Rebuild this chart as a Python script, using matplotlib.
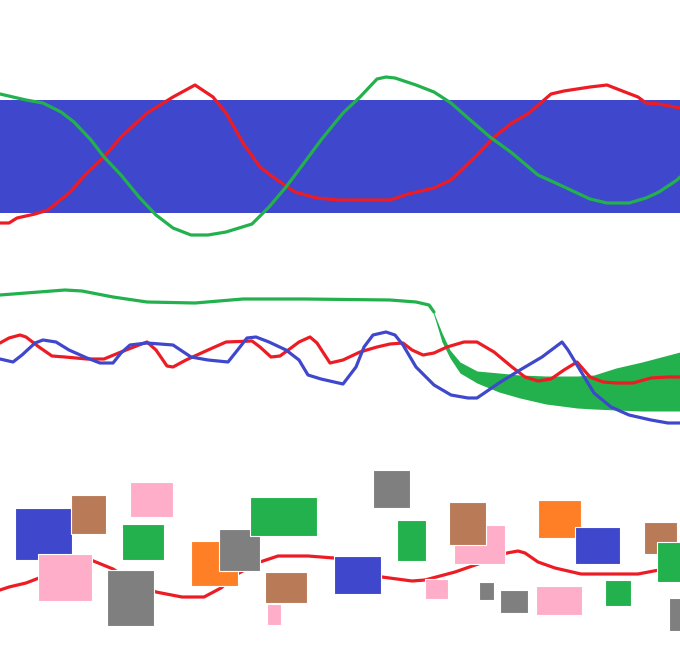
import matplotlib
matplotlib.use("Agg")
import matplotlib.pyplot as plt
import numpy as np

# paint-style palette
BLUE = "#3f48cc"
RED = "#ed1c24"
GREEN = "#22b14c"
ORANGE = "#ff7f27"
PINK = "#ffaec9"
BROWN = "#b97a57"
GRAY = "#7f7f7f"

# ---- top panel: band + two waves (pixel-like units, y grows downward)
band_top = 100
band_bottom = 213

top_red_x = [0, 9, 17, 35, 48, 69, 87, 104, 121, 147, 173, 195, 213, 226, 243, 260, 273, 295,
             317, 338, 390, 408, 434, 451, 477, 494, 512, 529, 551, 564, 590, 607, 625, 638,
             646, 659, 680]
top_red_y = [223, 223, 218, 214, 210, 193, 173, 157, 137, 113, 97, 85, 97, 113, 143, 167, 177, 192,
             198, 200, 200, 194, 188, 180, 155, 137, 123, 113, 94, 91, 87, 85, 92, 97,
             103, 104, 108]

top_green_x = [0, 26, 43, 61, 74, 91, 104, 121, 139, 156, 173, 191, 208, 226, 252, 269, 286, 304,
               321, 343, 360, 377, 386, 395, 416, 434, 451, 468, 490, 512, 538, 560, 590, 607,
               629, 646, 659, 677, 680]
top_green_y = [94, 100, 103, 112, 122, 140, 157, 175, 197, 215, 228, 235, 235, 232, 224, 207, 187, 163,
               140, 113, 97, 79, 77, 78, 85, 92, 103, 118, 137, 153, 175, 185, 199, 203,
               203, 198, 192, 180, 177]

# ---- middle panel
mid_green_x = [0, 26, 65, 82, 113, 147, 195, 243, 304, 390, 416, 429, 434]
mid_green_y = [295, 293, 290, 291, 297, 302, 303, 299, 299, 300, 302, 305, 312]

spread_x = [430, 436, 442, 450, 460, 477, 499, 520, 546, 577, 594, 616, 642, 680]
spread_hi = [303, 318, 333, 350, 362, 371, 373, 375, 376, 376, 375, 368, 362, 352]
spread_lo = [303, 322, 342, 358, 373, 383, 392, 398, 404, 408, 409, 410, 411, 411]

mid_red_x = [0, 9, 20, 26, 39, 52, 65, 87, 104, 121, 139, 147, 156, 167, 173, 186, 208, 226, 252,
             260, 271, 280, 291, 299, 310, 317, 330, 343, 360, 377, 390, 403, 412, 423, 434, 447,
             464, 477, 494, 512, 525, 538, 551, 564, 577, 590, 603, 616, 633, 651, 668, 680]
mid_red_y = [343, 338, 335, 337, 347, 356, 357, 359, 359, 352, 345, 342, 350, 366, 367, 360, 350, 342, 341,
             347, 357, 356, 348, 342, 337, 343, 363, 360, 352, 347, 344, 343, 350, 355, 353, 347,
             342, 342, 352, 367, 377, 381, 379, 370, 362, 377, 382, 383, 383, 378, 377, 377]

mid_blue_x = [0, 13, 22, 35, 43, 56, 69, 87, 100, 113, 121, 130, 147, 173, 191, 208, 228, 236, 247,
              256, 269, 286, 299, 308, 321, 343, 356, 364, 373, 386, 395, 403, 416, 434, 451, 468,
              477, 499, 520, 542, 562, 568, 577, 594, 611, 629, 651, 668, 680]
mid_blue_y = [359, 362, 355, 343, 340, 342, 350, 358, 363, 363, 353, 345, 343, 345, 357, 360, 362, 352, 338,
              337, 342, 350, 360, 375, 379, 384, 367, 347, 335, 332, 335, 345, 367, 385, 395, 398,
              398, 383, 370, 357, 342, 350, 365, 393, 407, 415, 420, 423, 423]

# ---- bottom panel: line + scattered blocks
bot_red_x = [0, 9, 26, 39, 56, 91, 113, 130, 156, 182, 204, 221, 239, 260, 278, 308, 334, 382, 412,
             425, 455, 481, 507, 518, 525, 538, 555, 581, 638, 659, 680]
bot_red_y = [590, 587, 583, 578, 560, 560, 569, 580, 592, 597, 597, 588, 573, 562, 556, 556, 558, 577, 581,
             580, 572, 563, 553, 551, 553, 562, 568, 574, 574, 570, 568]

blk_x0 = [15, 71, 130, 122, 38, 107, 191, 219, 250, 265, 267, 373, 334, 397, 425, 454, 449, 479, 500, 536, 538, 575, 605, 644, 657, 669]
blk_x1 = [72, 106, 173, 164, 92, 154, 238, 260, 317, 307, 281, 410, 381, 426, 448, 505, 486, 494, 528, 582, 581, 620, 631, 677, 692, 692]
blk_y0 = [508, 495, 482, 524, 554, 570, 541, 529, 497, 572, 604, 470, 556, 520, 579, 525, 502, 582, 590, 586, 500, 527, 580, 522, 542, 598]
blk_y1 = [560, 534, 517, 560, 601, 626, 586, 571, 536, 603, 625, 508, 594, 561, 599, 564, 545, 600, 613, 615, 538, 564, 606, 554, 582, 631]
blk_col = [BLUE, BROWN, PINK, GREEN, PINK, GRAY, ORANGE, GRAY, GREEN, BROWN, PINK, GRAY, BLUE, GREEN, PINK, PINK, BROWN, GRAY, GRAY, PINK, ORANGE, BLUE, GREEN, BROWN, GREEN, GRAY]

fig = plt.figure(figsize=(6.8, 6.49), dpi=100)
ax = fig.add_axes([0, 0, 1, 1])
ax.set_xlim(0, 680)
ax.set_ylim(649, 0)
ax.axis("off")

lw = 2.3
line_kw = dict(lw=lw, solid_joinstyle="round", solid_capstyle="round")

# top
ax.bar(0, band_bottom - band_top, width=680, bottom=band_top, align="edge", color=BLUE, zorder=1)
ax.plot(top_red_x, top_red_y, color=RED, zorder=3, **line_kw)
ax.plot(top_green_x, top_green_y, color=GREEN, zorder=3, **line_kw)

# middle
ax.plot(mid_green_x, mid_green_y, color=GREEN, zorder=2, **line_kw)
ax.fill_between(spread_x, spread_hi, spread_lo, color=GREEN, lw=0, zorder=2)
ax.plot(mid_red_x, mid_red_y, color=RED, zorder=3, **line_kw)
ax.plot(mid_blue_x, mid_blue_y, color=BLUE, zorder=3, **line_kw)

# bottom
ax.plot(bot_red_x, bot_red_y, color=RED, zorder=1, **line_kw)
x0 = np.array(blk_x0)
y0 = np.array(blk_y0)
for i in range(len(blk_col)):
    ax.bar(x0[i], blk_y1[i] - y0[i], width=blk_x1[i] - x0[i], bottom=y0[i], align="edge",
           color=blk_col[i], edgecolor="white", linewidth=0.8, zorder=2 + i * 0.01)

fig.savefig("out.png", dpi=100)
